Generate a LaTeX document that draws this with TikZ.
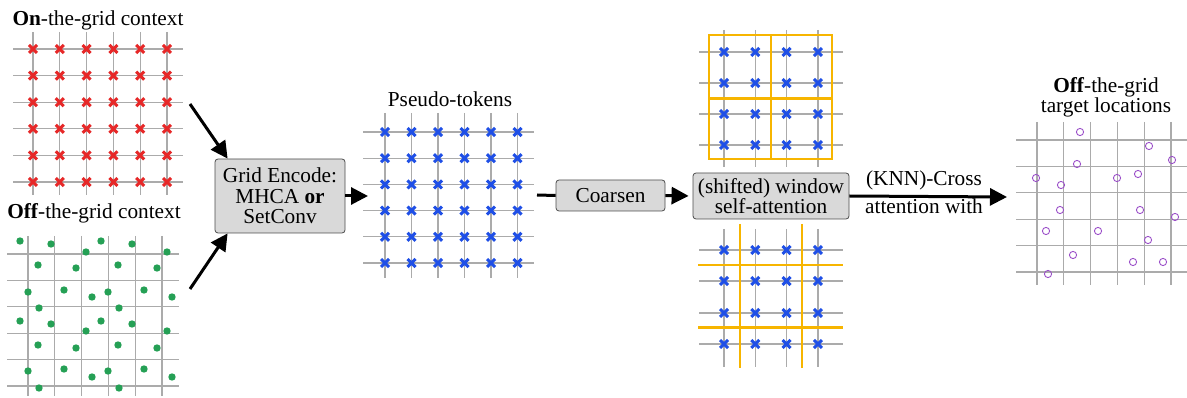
\documentclass[tikz,border=0pt]{standalone}
\usepackage{fontspec}
\setmainfont{Liberation Serif}
\usetikzlibrary{arrows.meta}
\definecolor{cred}{HTML}{E62828}
\definecolor{cblue}{HTML}{1F4FE6}
\definecolor{cgreen}{HTML}{25A055}
\definecolor{cpurple}{HTML}{9B4FC9}
\definecolor{corange}{HTML}{F7B500}
\definecolor{cgrid}{HTML}{ABABAB}
\definecolor{cbox}{HTML}{D9D9D9}
\newcommand\mygrid[6]{%
  \foreach \gy in {#2} \draw[gridline] (#3,\gy) -- (#4,\gy);
  \foreach \gx in {#1} \draw[gridline] (\gx,#5) -- (\gx,#6);
}
\newcommand\mycrosses[3]{%
  \foreach \cx in {#2} \foreach \cy in {#3}
    \draw[#1, line width=3pt] ({\cx-4},{\cy-4}) -- ({\cx+4},{\cy+4})
                              ({\cx-4},{\cy+4}) -- ({\cx+4},{\cy-4});
}
\begin{document}
\begin{tikzpicture}[x=1pt,y=-1pt,
  lbl/.style={font=\fontsize{21.3}{20.5}\selectfont, inner sep=0pt, anchor=base},
  gridline/.style={cgrid, line width=1.2pt},
  box/.style={draw=black!70, fill=cbox, rounded corners=3pt, line width=0.8pt,
              font=\fontsize{21.3}{20.5}\selectfont, align=center, inner sep=0pt},
  flow/.style={line width=3pt, -{Triangle[length=17pt,width=17pt]}},
  plain/.style={line width=3pt},
  win/.style={corange, line width=2.7pt},
  swin/.style={corange, line width=2.2pt},
  dot/.style={fill=cgreen, draw=none},
  ring/.style={draw=cpurple, line width=0.9pt, fill=none}]
\useasboundingbox (0,0) rectangle (1187,398);

% ---------- on-the-grid context ----------
\node[lbl] (ttl-on) at (98,26) {\textbf{On}-the-grid context};
\mygrid{33,59.8,86.6,113.4,140.2,167}{49,75.6,102.2,128.8,155.4,182}{13}{183}{32}{195}
\mycrosses{cred}{33,59.8,86.6,113.4,140.2,167}{49,75.6,102.2,128.8,155.4,182}

% ---------- off-the-grid context ----------
\node[lbl] (ttl-off) at (94,219) {\textbf{Off}-the-grid context};
\mygrid{28,54.8,81.6,108.4,135.2,162}{254,280.4,306.8,333.2,359.6,386}{7}{179}{236}{396}
\foreach \px/\py in {20/241,51/244,86/252,101/241,132/244,167/252,
                     38/265,76/268,118/265,157/268,
                     28/292,64/290,92/297,108/292,144/290,172/297,
                     39/308,119/308,
                     20/321,51/324,101/321,132/324,86/331,167/331,
                     38/345,76/348,118/345,157/348,
                     28/371,64/369,92/377,108/371,144/369,172/377,
                     39/388,119/388}
  \fill[dot] (\px,\py) circle (3.7);

% ---------- encoder ----------
\coordinate (on-out) at (190,104);
\coordinate (off-out) at (190,289);
\node[box, minimum width=130pt, minimum height=74pt] (enc) at (280,196)
  {Grid Encode:\\MHCA \textbf{or}\\SetConv};
\draw[flow] (on-out) -- ([xshift=13pt]enc.north west);
\draw[flow] (off-out) -- ([xshift=13pt]enc.south west);

% ---------- pseudo-tokens ----------
\node[lbl] (ttl-pt) at (450,107) {Pseudo-tokens};
\mygrid{385,411.5,438,464.5,491,517.5}{132,158.2,184.4,210.6,236.8,263}{363}{534}{113}{278}
\mycrosses{cblue}{385,411.5,438,464.5,491,517.5}{132,158.2,184.4,210.6,236.8,263}
\coordinate (pt-in) at (368,196);
\coordinate (pt-out) at (537,195);
\draw[flow] (enc.east) -- (pt-in);

% ---------- coarsen ----------
\node[box, minimum width=109pt, minimum height=31pt] (coar) at (610.5,195.5) {Coarsen};
\draw[plain] (pt-out) -- (coar.west);

% ---------- window attention ----------
\node[box, minimum width=156pt, minimum height=46pt] (win) at (771,196)
  {(shifted) window\\self-attention};
\draw[flow, shorten >=4pt] (coar.east) -- (win.west);

% top window grid
\mygrid{724,755.3,786.6,817.9}{52,83,114,145}{699}{843}{30}{167}
\mycrosses{cblue}{724,755.3,786.6,817.9}{52,83,114,145}
\draw[win] (709,35) rectangle (832,159);
\draw[win] (771,35) -- (771,159);
\draw[win] (709,98.5) -- (832,98.5);

% bottom (shifted) window grid
\mygrid{724,755.3,786.6,817.9}{250,281,313,344}{699}{843}{229}{367}
\mycrosses{cblue}{724,755.3,786.6,817.9}{250,281,313,344}
\draw[swin] (740,224) -- (740,368);
\draw[swin] (802,224) -- (802,368);
\draw[swin] (698,265) -- (843,265);
\draw[swin] (698,327.5) -- (843,327.5);

% ---------- cross attention to targets ----------
\coordinate (tgt-in) at (1007,197);
\draw[flow] (win.east) -- (tgt-in);
\node[lbl] (knn1) at (924,186) {(KNN)-Cross};
\node[lbl] (knn2) at (924,214) {attention with};

\node[lbl] (ttl-tgt1) at (1106,93) {\textbf{Off}-the-grid};
\node[lbl] (ttl-tgt2) at (1106,113) {target locations};
\mygrid{1037,1063.8,1090.6,1117.4,1144.2,1171}{140,166.4,192.8,219.2,245.6,272}{1016}{1187}{122}{285}
\foreach \qx/\qy in {1080/132,1149/146,1172/160,1077/164,1036/178,1117/178,1138/174,
                     1061/185,1060/210,1140/210,1175/217,1046/231,1098/231,1148/240,
                     1073/255,1133/262,1163/262,1048/274}
  \draw[ring] (\qx,\qy) circle (3.6);
\end{tikzpicture}
\end{document}
